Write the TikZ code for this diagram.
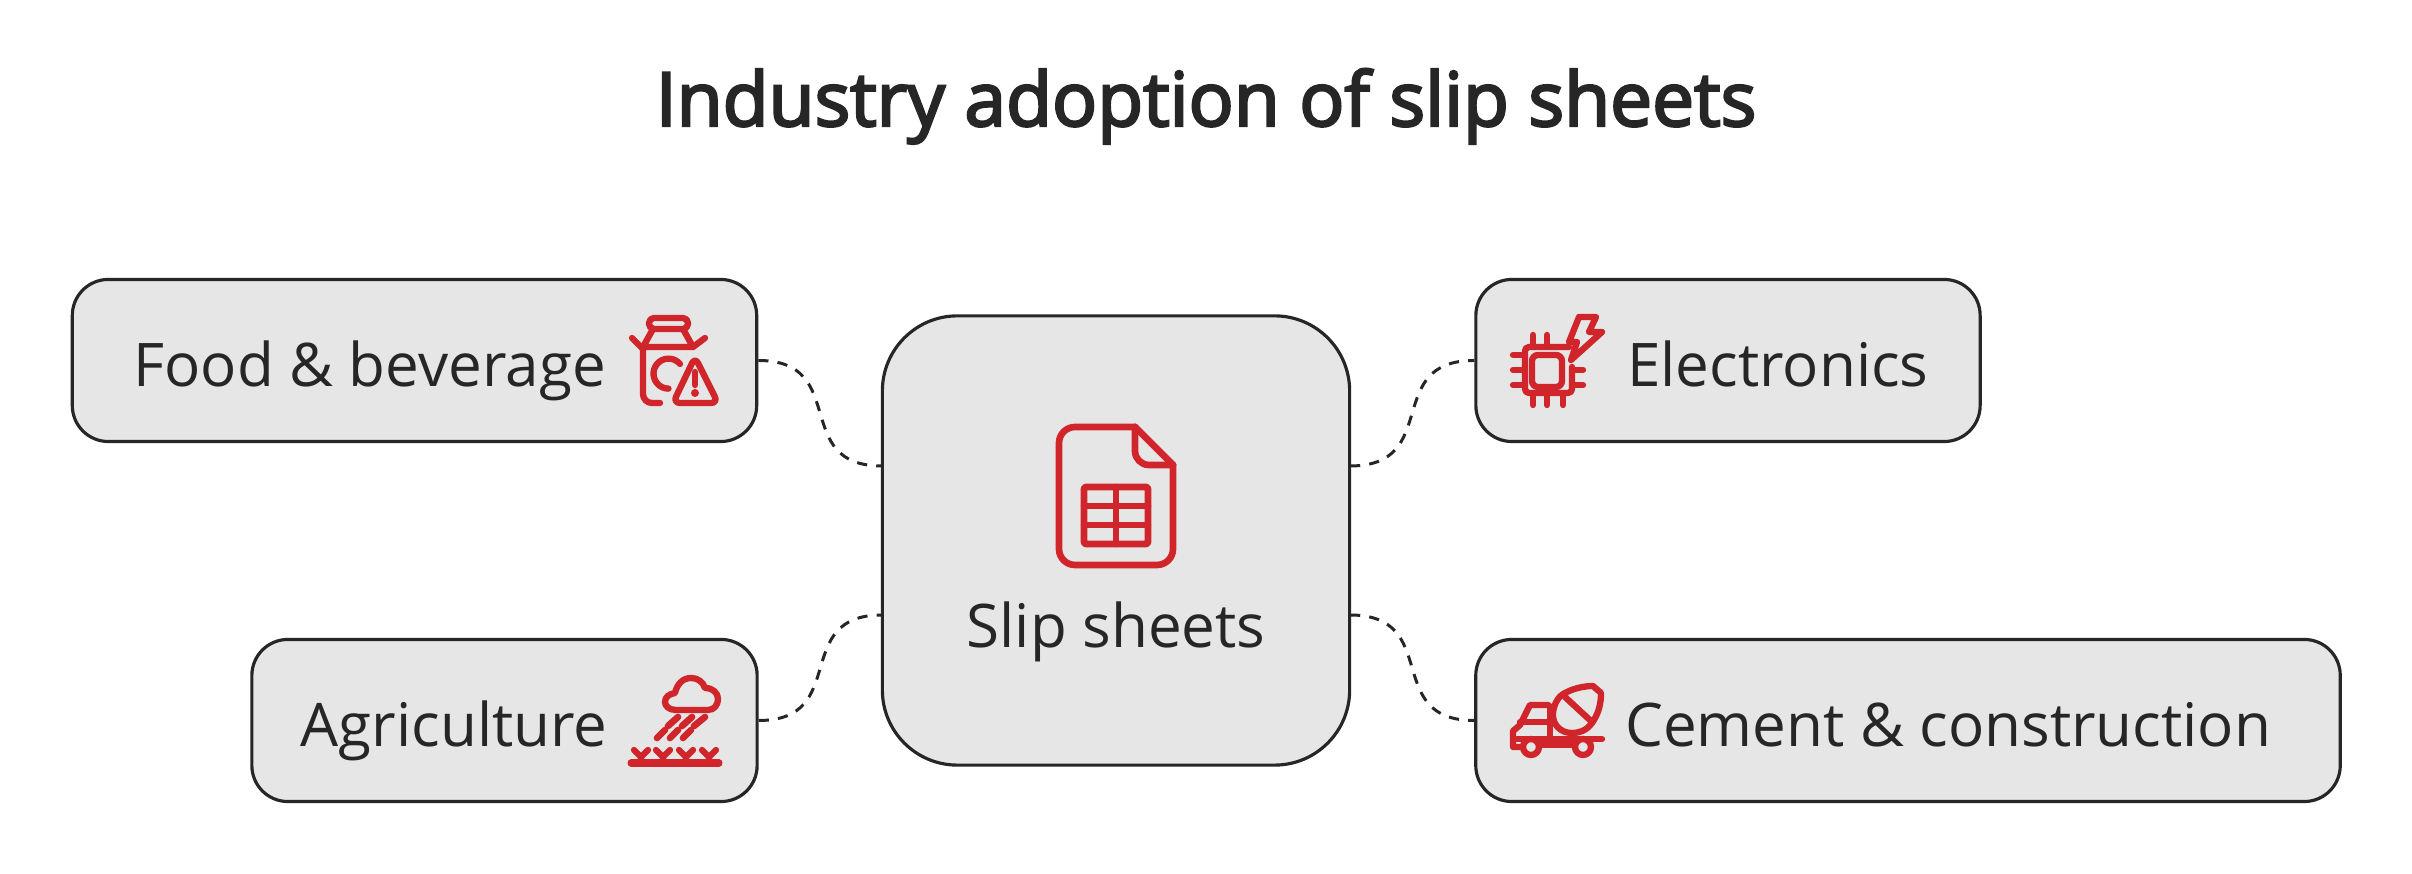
\documentclass[tikz,border=0pt]{standalone}
\usepackage{fontspec}
\setmainfont{Open Sans}
\newfontfamily\titlefont[FakeBold=3.2]{Open Sans}
\definecolor{inkgray}{HTML}{262626}
\definecolor{boxgray}{HTML}{E6E6E6}
\definecolor{iconred}{HTML}{D0252B}
\tikzset{
    box/.style={draw=inkgray, fill=boxgray, line width=0.9pt, rounded corners=0.36cm, inner ysep=0pt,
        text=inkgray, font=\fontsize{17.1}{20}\selectfont, text height=1.07cm, text depth=0.55cm},
    link/.style={draw=inkgray, line width=0.85pt, dash pattern=on 2.9pt off 2.6pt, out=0, in=180, looseness=1.45},
    icon/.style={draw=iconred, line width=1.8pt, line cap=round, line join=round},
}
\begin{document}
\begin{tikzpicture}[x=0.01cm,y=-0.01cm]
\useasboundingbox (0,0) rectangle (2412,874);

\node[text=inkgray, anchor=base, font=\titlefont\fontsize{21.3}{26}\selectfont] (title) at (1206,126) {Industry adoption of slip sheets};

\node[box, rounded corners=0.75cm, align=flush center, text width=4.67cm, inner xsep=0pt, text height=3.31cm, text depth=1.18cm] (slip) at (1116,540.5) {Slip sheets};
\node[box, align=flush left, text width=5.62cm, inner xsep=0.61cm] (food) at (414.5,360.5) {Food \& beverage};
\node[box, align=flush left, text width=4.07cm, inner xsep=0.49cm] (agri) at (504.5,720.5) {Agriculture};
\node[box, align=flush right, text width=4.01cm, inner xsep=0.515cm] (elec) at (1728,360.5) {Electronics};
\node[box, align=flush right, text width=7.26cm, inner xsep=0.69cm] (cement) at (1908,720.5) {Cement \& construction};

\coordinate (slipA) at (882,466);
\coordinate (slipB) at (882,615);
\coordinate (slipC) at (1350,466);
\coordinate (slipD) at (1350,615);

\path (food.east) edge[link] (slipA)
    (agri.east) edge[link] (slipB)
    (slipC) edge[link] (elec.west)
    (slipD) edge[link] (cement.west);

% sheet
\begin{scope}[icon, line width=1.9pt]
\draw[rounded corners=0.16cm] (1135,427) -- (1059,427) -- (1059,565) -- (1173,565) -- (1173,465);
\draw (1135,427) -- (1173,465);
\draw[rounded corners=0.14cm] (1135,427) -- (1135,465) -- (1173,465);
\draw[rounded corners=0.02cm] (1084,487) rectangle (1148,544);
\draw (1116,487) -- (1116,544) (1084,506) -- (1148,506) (1084,525) -- (1148,525);
\end{scope}

% can
\begin{scope}[icon]
\draw[rounded corners=0.05cm] (649,318) rectangle (688,329);
\draw (653,329) -- (643,347) -- (693,347) -- (683,329);
\draw (632,338) -- (643,349) (705,338) -- (693,347);
\draw[rounded corners=0.09cm] (643,347) -- (643,403) -- (660,403);
\draw (680,364) arc (-40:-270:15);
\draw[rounded corners=0.07cm] (695,357) -- (673,403) -- (718,403) -- cycle;
\draw (695,372) -- (695,385);
\fill[iconred] (695,393) circle (4);
\end{scope}

% chip
\begin{scope}[icon]
\draw[rounded corners=0.04cm] (1569,347) -- (1525,347) -- (1525,393) -- (1572,393) -- (1572,367);
\draw[rounded corners=0.06cm] (1532,355) rectangle (1562,387);
\foreach \x in {1533,1547} \draw (\x,335) -- (\x,347);
\foreach \x in {1533,1547,1563} \draw (\x,393) -- (\x,405);
\foreach \y in {355,370,385} \draw (1513,\y) -- (1525,\y);
\foreach \y in {370,385} \draw (1572,\y) -- (1583,\y);
\draw (1579,317) -- (1596,317) -- (1589,332) -- (1602,332) -- (1571,360) -- (1577,342) -- (1569,342) -- cycle;
\end{scope}

% truck
\begin{scope}[icon]
\draw (1550,707) -- (1548,705) -- (1530,705) -- (1520,725) -- (1513,731) -- (1513,747) -- (1520,747);
\draw (1520,722) -- (1550,722);
\draw (1550,707) -- (1550,738);
\draw (1517,739) -- (1602,739);
\draw (1540,745) -- (1573,745);
\draw (1531,747) circle (8) (1583,747) circle (8);
\draw (1553,713) .. controls (1554,703) and (1559,695) .. (1567,692) .. controls (1575,688) and (1585,686) .. (1593,686)
    -- (1601,693) .. controls (1601,703) and (1599,713) .. (1592,723) .. controls (1586,731) and (1579,733) .. (1572,733)
    .. controls (1560,733) and (1552,724) .. (1553,713);
\draw (1565,697) -- (1592,722);
\end{scope}

% rain
\begin{scope}[icon]
\draw (676,710) .. controls (669,710) and (665,706) .. (665,702) .. controls (665,697) and (669,694) .. (675,693)
    .. controls (677,684) and (683,678) .. (691,678) .. controls (698,678) and (703,682) .. (705,688)
    .. controls (713,688) and (718,693) .. (718,699) .. controls (718,705) and (714,710) .. (708,710) -- cycle;
\draw[line width=1.9pt] (668,726) -- (678,717) (682,726) -- (692,717) (694,726) -- (705,717);
\draw[line width=1.9pt] (657,738) -- (665,730) (670,738) -- (678,730) (683,738) -- (691,730);
\draw[line width=2pt] (631,763) -- (719,763);
\foreach \x in {641,663,686,709}
    \draw (\x,763) -- (\x,757) (\x-7,750) -- (\x,757) -- (\x+7,750);
\end{scope}
\end{tikzpicture}
\end{document}
